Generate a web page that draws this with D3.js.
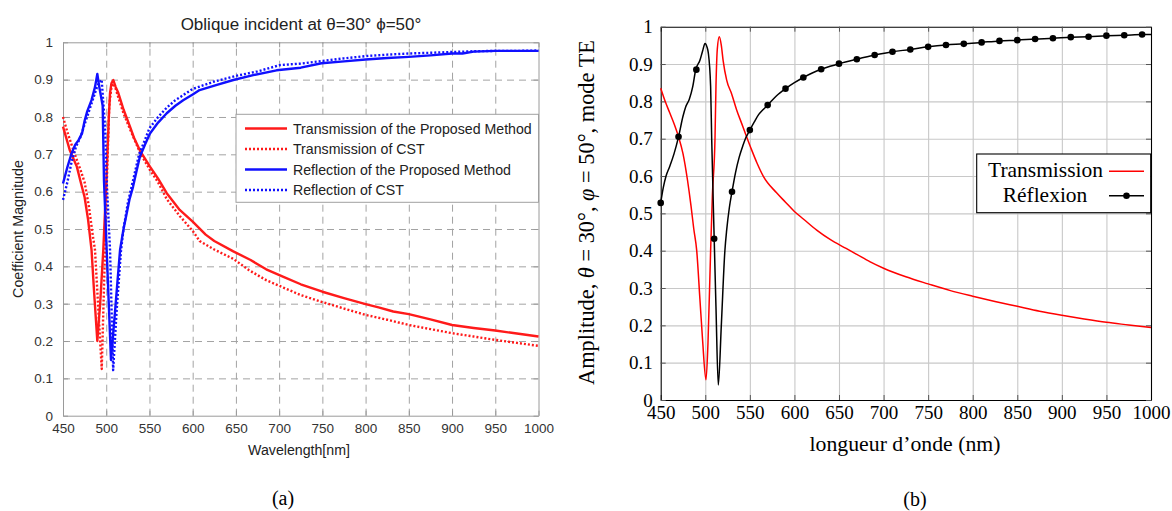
<!DOCTYPE html>
<html><head><meta charset="utf-8">
<script src="https://cdn.jsdelivr.net/npm/d3@7"></script>
<style>body{margin:0;background:#fff}</style>
</head><body>
<svg id="c" width="1172" height="511" xmlns="http://www.w3.org/2000/svg"></svg>
<script>
// ---------- data ----------
const wlTicks = [450,500,550,600,650,700,750,800,850,900,950,1000];
const wlLabels = ["450","500","550","600","650","700","750","800","850","900","950","1000"];
const ampTicks = [0,0.1,0.2,0.3,0.4,0.5,0.6,0.7,0.8,0.9,1];
const ampLabels = ["0","0.1","0.2","0.3","0.4","0.5","0.6","0.7","0.8","0.9","1"];

const titleA = "Oblique incident at \u03b8=30\u00b0 \u03d5=50\u00b0";
const xLabelA = "Wavelength[nm]";
const yLabelA = "Coefficient Magnitude";
const legendA = ["Transmission of the Proposed Method","Transmission of CST","Reflection of the Proposed Method","Reflection of CST"];

// panel (a) series: [wavelength nm, magnitude]
const transProposed = [[450,0.774],[458,0.71],[466,0.667],[470,0.63],[475,0.585],[479,0.525],[483,0.444],[486,0.33],[489.7,0.2],[493,0.3],[496.6,0.444],[500,0.62],[503,0.80],[504.4,0.864],[506,0.89],[508.2,0.899],[511,0.88],[514,0.864],[520,0.82],[527.5,0.774],[532,0.745],[539,0.71],[550.6,0.667],[560,0.635],[570,0.596],[585,0.551],[600,0.52],[615,0.485],[625,0.468],[647,0.44],[667,0.417],[685,0.392],[705,0.372],[725,0.352],[750,0.332],[775,0.315],[800,0.299],[815,0.29],[832,0.279],[850,0.272],[875,0.258],[900,0.243],[925,0.235],[950,0.228],[975,0.22],[1000,0.212]];
const transCST = [[450,0.80],[455,0.76],[460,0.725],[466,0.685],[470,0.66],[475,0.625],[480,0.56],[484,0.49],[487,0.444],[491,0.28],[494.8,0.125],[498.6,0.444],[501,0.65],[503.5,0.83],[506,0.88],[508,0.89],[511,0.875],[515,0.845],[520,0.81],[527,0.77],[539,0.705],[550,0.66],[560,0.625],[570,0.58],[585,0.535],[600,0.495],[608,0.468],[625,0.445],[647,0.42],[665,0.39],[685,0.363],[705,0.343],[725,0.323],[749,0.305],[775,0.287],[800,0.27],[825,0.257],[850,0.243],[875,0.232],[900,0.221],[925,0.212],[950,0.203],[975,0.195],[1000,0.187]];
const reflProposed = [[450,0.622],[455,0.665],[460,0.703],[464,0.725],[468,0.738],[472,0.756],[475,0.79],[478,0.815],[483,0.845],[487,0.88],[489.7,0.915],[492,0.88],[495.9,0.83],[497.4,0.63],[500.5,0.444],[505.5,0.149],[510,0.274],[516,0.444],[520,0.5],[523.7,0.542],[527,0.58],[531,0.613],[535,0.655],[539,0.694],[545,0.727],[550.6,0.756],[560,0.785],[570,0.81],[580,0.83],[589,0.845],[600,0.86],[608,0.872],[628,0.886],[647,0.899],[670,0.912],[697,0.925],[725,0.932],[749,0.944],[775,0.949],[800,0.954],[825,0.958],[850,0.961],[875,0.965],[900,0.97],[912,0.97],[925,0.975],[950,0.977],[975,0.977],[1000,0.977]];
const reflCST = [[450,0.578],[455,0.625],[460,0.68],[465,0.72],[470,0.745],[475,0.78],[480,0.815],[485,0.85],[490,0.885],[494.7,0.90],[498.6,0.774],[500.5,0.63],[504.4,0.444],[508,0.122],[512,0.28],[517,0.44],[520,0.5],[525,0.57],[531,0.63],[538,0.70],[545,0.74],[550,0.77],[560,0.80],[570,0.825],[580,0.845],[590,0.86],[600,0.875],[625,0.895],[650,0.91],[675,0.922],[701,0.939],[725,0.943],[749,0.95],[775,0.957],[800,0.963],[825,0.967],[850,0.97],[875,0.972],[900,0.974],[925,0.976],[950,0.977],[975,0.977],[1000,0.978]];

// panel (b)
const xLabelB = "longueur d\u2019onde (nm)";
const legendB = ["Transmission","R\u00e9flexion"];
const transB = [[450,0.835],[455,0.80],[460,0.77],[465,0.74],[470,0.705],[475,0.66],[480,0.59],[484,0.52],[487,0.46],[490.4,0.40],[494,0.27],[497,0.16],[500.8,0.054],[503,0.15],[506,0.40],[508,0.55],[510.9,0.70],[512,0.84],[513.5,0.94],[515.7,0.973],[518,0.95],[520,0.91],[524,0.857],[529.6,0.82],[535.2,0.777],[540.8,0.741],[545.6,0.71],[552,0.67],[558,0.635],[565,0.60],[580,0.555],[590,0.53],[600,0.505],[610,0.485],[625,0.455],[640,0.43],[658,0.406],[670,0.39],[685,0.37],[700,0.353],[725,0.33],[750,0.311],[775,0.293],[800,0.278],[825,0.264],[850,0.251],[875,0.238],[900,0.227],[925,0.217],[950,0.208],[975,0.201],[1000,0.194]];
const reflB = [[450,0.528],[453,0.57],[456,0.60],[460,0.625],[465,0.66],[470,0.705],[475,0.76],[478,0.785],[482,0.805],[486,0.84],[489.2,0.884],[494,0.91],[497,0.935],[499.7,0.955],[502,0.945],[503.4,0.93],[506,0.84],[507.2,0.70],[510,0.432],[512,0.25],[514.6,0.04],[518,0.2],[522,0.40],[524,0.455],[527,0.515],[530,0.558],[534,0.61],[538,0.65],[542,0.68],[545,0.70],[550,0.723],[555,0.745],[560,0.765],[565,0.778],[570,0.79],[580,0.815],[590,0.834],[600,0.85],[610,0.864],[620,0.876],[630,0.886],[640,0.894],[650,0.901],[670,0.913],[690,0.924],[710,0.933],[730,0.939],[750,0.946],[770,0.951],[790,0.954],[810,0.958],[830,0.962],[850,0.964],[870,0.967],[890,0.969],[910,0.972],[930,0.973],[950,0.976],[970,0.977],[990,0.979],[1000,0.979]];
const reflBMarks = [[450,0.528],[470,0.705],[490,0.885],[510,0.432],[530,0.558],[550,0.723],[570,0.79],[590,0.834],[610,0.864],[630,0.886],[650,0.901],[670,0.913],[690,0.924],[710,0.933],[730,0.939],[750,0.946],[770,0.951],[790,0.954],[810,0.958],[830,0.962],[850,0.964],[870,0.967],[890,0.969],[910,0.972],[930,0.973],[950,0.976],[970,0.977],[990,0.979]];

// ---------- helpers ----------
const svg = d3.select("#c");
function fit(sel, target){
  const w = sel.node().getComputedTextLength();
  const fs = parseFloat(sel.attr("font-size"));
  sel.attr("font-size", fs*target/w);
  return fs*target/w;
}

// ================= PANEL (a) =================
const SA = "'Liberation Sans', Arial, Helvetica, sans-serif";
const xA = d3.scaleLinear().domain([450,1000]).range([63,538.5]);
const yA = d3.scaleLinear().domain([0,1]).range([415.7,42.3]);
const gA = svg.append("g");
const hA = yA(0)-yA(1), wA = xA(1000)-xA(450);

// grid
gA.append("g").attr("transform",`translate(0,${yA(0)})`)
  .call(d3.axisBottom(xA).tickValues(wlTicks.slice(1,-1)).tickSize(-hA).tickFormat(""))
  .call(g=>{g.select(".domain").remove();g.selectAll("line").attr("stroke","#a3a3a3").attr("stroke-dasharray","7,5").attr("stroke-width",1);});
gA.append("g").attr("transform",`translate(${xA(450)},0)`)
  .call(d3.axisLeft(yA).tickValues(ampTicks.slice(1,-1)).tickSize(-wA).tickFormat(""))
  .call(g=>{g.select(".domain").remove();g.selectAll("line").attr("stroke","#a3a3a3").attr("stroke-dasharray","7,5").attr("stroke-width",1);});

// axes
function styleA(g){
  g.select(".domain").attr("stroke","#9a9a9a");
  g.selectAll(".tick line").attr("stroke","#9a9a9a");
  g.selectAll("text").attr("fill","#333").attr("font-family",SA).attr("font-size",13.5);
}
gA.append("g").attr("transform",`translate(0,${yA(0)})`)
  .call(d3.axisBottom(xA).tickValues(wlTicks).tickFormat((d,i)=>wlLabels[i]).tickSizeInner(-5).tickSizeOuter(0).tickPadding(8))
  .call(styleA);
gA.append("g").attr("transform",`translate(0,${yA(1)})`)
  .call(d3.axisTop(xA).tickValues(wlTicks).tickFormat("").tickSizeInner(-5).tickSizeOuter(0)).call(styleA);
gA.append("g").attr("transform",`translate(${xA(450)},0)`)
  .call(d3.axisLeft(yA).tickValues(ampTicks).tickFormat((d,i)=>ampLabels[i]).tickSizeInner(-5).tickSizeOuter(0).tickPadding(10))
  .call(styleA);
gA.append("g").attr("transform",`translate(${xA(1000)},0)`)
  .call(d3.axisRight(yA).tickValues(ampTicks).tickFormat("").tickSizeInner(-5).tickSizeOuter(0)).call(styleA);

// lines
const lineA = d3.line().x(d=>xA(d[0])).y(d=>yA(d[1]));
const seriesA = [
  {data:transProposed, color:"#ff1a1a", dash:null},
  {data:transCST, color:"#ff1a1a", dash:"2,2"},
  {data:reflProposed, color:"#1010ff", dash:null},
  {data:reflCST, color:"#1010ff", dash:"2,2"}
];
seriesA.forEach(s=>{
  gA.append("path").attr("d",lineA(s.data)).attr("fill","none").attr("stroke",s.color)
    .attr("stroke-width",2.4).attr("stroke-dasharray",s.dash).attr("stroke-linejoin","round");
});

// title & labels
const tA = gA.append("text").attr("x",301).attr("y",30).attr("text-anchor","middle")
  .attr("font-family",SA).attr("font-size",15).attr("fill","#222").text(titleA);
fit(tA,241);
const xlA = gA.append("text").attr("x",299).attr("y",455).attr("text-anchor","middle")
  .attr("font-family",SA).attr("font-size",12).attr("fill","#222").text(xLabelA);
fit(xlA,102);
const ylA = gA.append("text").attr("transform","translate(23,229) rotate(-90)").attr("text-anchor","middle")
  .attr("font-family",SA).attr("font-size",12).attr("fill","#222").text(yLabelA);
fit(ylA,138);

// legend (a)
const lgA = gA.append("g");
lgA.append("rect").attr("x",236).attr("y",114.3).attr("width",302.5).attr("height",88)
  .attr("fill","#fff").attr("stroke","#a0a0a0").attr("stroke-width",1);
const lgYs = [128.5,149,169.5,190];
let lgFs = 13;
legendA.forEach((t,i)=>{
  lgA.append("line").attr("x1",245).attr("x2",287).attr("y1",lgYs[i]).attr("y2",lgYs[i])
    .attr("stroke",seriesA[i].color).attr("stroke-width",2.4).attr("stroke-dasharray",seriesA[i].dash);
  const tx = lgA.append("text").attr("x",293).attr("y",lgYs[i]).attr("dy","0.36em")
    .attr("font-family",SA).attr("font-size",lgFs).attr("fill","#222").text(t);
  if(i===0){ lgFs = fit(tx,239); }
});

svg.append("text").attr("x",283).attr("y",505).attr("text-anchor","middle")
  .attr("font-family","'Liberation Serif', 'Times New Roman', serif").attr("font-size",20).attr("fill","#000").text("(a)");

// ================= PANEL (b) =================
const SB = "'Liberation Serif', 'Times New Roman', serif";
const xB = d3.scaleLinear().domain([450,1000]).range([660.7,1151]);
const yB = d3.scaleLinear().domain([0,1]).range([400,26.7]);
const gB = svg.append("g");
const hB = yB(0)-yB(1), wB = xB(1000)-xB(450);

gB.append("g").attr("transform",`translate(0,${yB(0)})`)
  .call(d3.axisBottom(xB).tickValues(wlTicks.slice(1,-1)).tickSize(-hB).tickFormat(""))
  .call(g=>{g.select(".domain").remove();g.selectAll("line").attr("stroke","#c8c8c8").attr("stroke-width",1.1);});
gB.append("g").attr("transform",`translate(${xB(450)},0)`)
  .call(d3.axisLeft(yB).tickValues(ampTicks.slice(1,-1)).tickSize(-wB).tickFormat(""))
  .call(g=>{g.select(".domain").remove();g.selectAll("line").attr("stroke","#c8c8c8").attr("stroke-width",1.1);});

function styleB(g){
  g.select(".domain").attr("stroke","#000").attr("stroke-width",1.1);
  g.selectAll(".tick line").attr("stroke","#555");
  g.selectAll("text").attr("fill","#000").attr("font-family",SB).attr("font-size",19);
}
gB.append("g").attr("transform",`translate(0,${yB(0)})`)
  .call(d3.axisBottom(xB).tickValues(wlTicks).tickFormat((d,i)=>wlLabels[i]).tickSizeInner(-5).tickSizeOuter(0).tickPadding(6))
  .call(styleB);
gB.append("g").attr("transform",`translate(0,${yB(1)})`)
  .call(d3.axisTop(xB).tickValues(wlTicks).tickFormat("").tickSizeInner(-5).tickSizeOuter(0)).call(styleB);
gB.append("g").attr("transform",`translate(${xB(450)},0)`)
  .call(d3.axisLeft(yB).tickValues(ampTicks).tickFormat((d,i)=>ampLabels[i]).tickSizeInner(-5).tickSizeOuter(0).tickPadding(8))
  .call(styleB);
gB.append("g").attr("transform",`translate(${xB(1000)},0)`)
  .call(d3.axisRight(yB).tickValues(ampTicks).tickFormat("").tickSizeInner(-5).tickSizeOuter(0)).call(styleB);

const lineB = d3.line().x(d=>xB(d[0])).y(d=>yB(d[1])).curve(d3.curveMonotoneX);
gB.append("path").attr("d",lineB(transB)).attr("fill","none").attr("stroke","#ff0000").attr("stroke-width",1.5);
gB.append("path").attr("d",lineB(reflB)).attr("fill","none").attr("stroke","#000").attr("stroke-width",1.5);
gB.append("g").selectAll("circle").data(reflBMarks).join("circle")
  .attr("cx",d=>xB(d[0])).attr("cy",d=>yB(d[1])).attr("r",3.3).attr("fill","#000");

// labels (b)
const xlB = gB.append("text").attr("x",905).attr("y",451).attr("text-anchor","middle")
  .attr("font-family",SB).attr("font-size",19).attr("fill","#000").text(xLabelB);
fit(xlB,191);
const ylB = gB.append("text").attr("transform","translate(594,212.5) rotate(-90)").attr("text-anchor","middle")
  .attr("font-family",SB).attr("font-size",19).attr("fill","#000");
ylB.append("tspan").text("Amplitude, ");
ylB.append("tspan").attr("font-style","italic").text("\u03b8");
ylB.append("tspan").text(" = 30\u00b0, ");
ylB.append("tspan").attr("font-style","italic").text("\u03c6");
ylB.append("tspan").text(" = 50\u00b0, mode TE");
fit(ylB,345);

// legend (b)
const lgB = gB.append("g");
lgB.append("rect").attr("x",976.7).attr("y",154).attr("width",174).attr("height",58.7)
  .attr("fill","#fff").attr("stroke","#000").attr("stroke-width",1.1);
const t1 = lgB.append("text").attr("x",1045.5).attr("y",177).attr("text-anchor","middle")
  .attr("font-family",SB).attr("font-size",19).attr("fill","#000").text(legendB[0]);
const fsB = fit(t1,115);
lgB.append("text").attr("x",1045).attr("y",201.5).attr("text-anchor","middle")
  .attr("font-family",SB).attr("font-size",fsB).attr("fill","#000").text(legendB[1]);
lgB.append("line").attr("x1",1109).attr("x2",1144).attr("y1",171.3).attr("y2",171.3).attr("stroke","#ff0000").attr("stroke-width",1.5);
lgB.append("line").attr("x1",1109).attr("x2",1144).attr("y1",195.7).attr("y2",195.7).attr("stroke","#000").attr("stroke-width",1.5);
lgB.append("circle").attr("cx",1126.5).attr("cy",195.7).attr("r",3.3).attr("fill","#000");

svg.append("text").attr("x",915).attr("y",506).attr("text-anchor","middle")
  .attr("font-family",SB).attr("font-size",20).attr("fill","#000").text("(b)");
</script>
</body></html>
